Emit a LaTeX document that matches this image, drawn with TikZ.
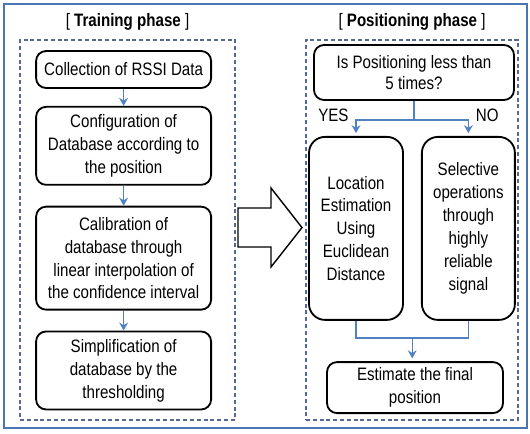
\documentclass[tikz,border=0pt]{standalone}
\usepackage{fontspec}
\setmainfont[FakeStretch=0.84]{Liberation Sans}
\usepackage{tikz}
\usetikzlibrary{arrows.meta, positioning, calc}
\definecolor{framebl}{RGB}{74,118,178}
\definecolor{dashbl}{RGB}{85,105,150}
\definecolor{flowbl}{RGB}{80,130,195}
\tikzset{
	block/.style={rectangle, draw, line width=1.3pt, rounded corners=2.5mm, align=center, minimum width=4.375cm, inner sep=1pt, font=\fontsize{12.8}{16.3}\selectfont},
	tallblock/.style={block, rounded corners=4mm, minimum width=2.35cm, minimum height=4.575cm},
	phase/.style={rectangle, draw=dashbl, line width=1pt, dash pattern=on 1mm off 0.7mm, minimum width=5.3cm, minimum height=9.5cm},
	line/.style={draw=flowbl, line width=1pt, -{Stealth[length=2mm, width=2.2mm]}},
	link/.style={draw=flowbl, line width=1pt},
	title/.style={font=\fontsize{12.8}{14}\selectfont}
}

\begin{document}
\begin{tikzpicture}[node distance=0.45cm]
    \useasboundingbox (0,0) rectangle (13.25,-10.825);
    \draw[framebl, line width=1.5pt] (0.1,-0.1) rectangle (13.175,-10.7);
    % Phases
    \node[phase, minimum width=5.375cm] (train) at (3.1875,-5.75) {};
    \node[phase] (locate) at (10.3,-5.75) {};
    \node[title, above=0.1cm of train] {[ \textbf{Training phase} ]};
    \node[title, above=0.1cm of locate] {[ \textbf{Positioning phase} ]};
    % Nodes
    \node[block, minimum height=0.925cm] (rssi) at (3.09,-1.7375) {Collection of RSSI Data};
    \node[block, minimum height=1.95cm, below=0.425cm of rssi] (config) {Configuration of\\Database according to\\the position};
    \node[block, minimum height=2.575cm, below=0.5cm of config] (calib) {Calibration of\\database through\\linear interpolation of\\the confidence interval};
    \node[block, minimum height=1.95cm, below=0.5cm of calib] (simplify) {Simplification of\\database by the\\thresholding};
    \node[block, minimum width=5cm, minimum height=1.375cm, font=\fontsize{12.8}{14.5}\selectfont] (check) at (10.35,-1.8125) {Is Positioning less than\\5 times?};
    \node[tallblock] (euclid) at (8.9,-5.71) {Location\\Estimation\\Using\\Euclidean\\Distance};
    \node[tallblock, minimum width=2.325cm] (select) at (11.71,-5.71) {Selective\\operations\\through\\highly\\reliable\\signal};
    \node[block, minimum width=4.4cm, minimum height=1.275cm] (final) at (10.375,-9.69) {Estimate the final\\position};
    % Arrows
    \draw[line] (rssi) -- (config);
    \draw[line] (config) -- (calib);
    \draw[line] (calib) -- (simplify);
    \coordinate (split) at ($(check.south)+(0,-0.475)$);
    \draw[link] (check.south) -- (split);
    \draw[line, shorten >=2pt] (split) -| node[pos=0.5, anchor=south east, inner sep=0pt, xshift=-0.17cm, yshift=-0.05cm, title] {YES} (euclid.north);
    \draw[line, shorten >=2pt] (split) -| node[pos=0.5, anchor=south west, inner sep=0pt, xshift=0.17cm, yshift=-0.05cm, title] {NO} (select.north);
    \coordinate (merge) at ($(euclid.south)!0.5!(select.south)+(0,-0.425)$);
    \draw[link] (euclid.south) |- (merge) -| (select.south);
    \draw[line, shorten >=2pt] (merge) -- (merge |- final.north);
    % Big arrow
    \draw[line width=1pt] (5.95,-5.2) -- (6.775,-5.2) -- (6.775,-4.7) -- (7.55,-5.69) -- (6.775,-6.675) -- (6.775,-6.175) -- (5.95,-6.175) -- cycle;
\end{tikzpicture}
\end{document}
